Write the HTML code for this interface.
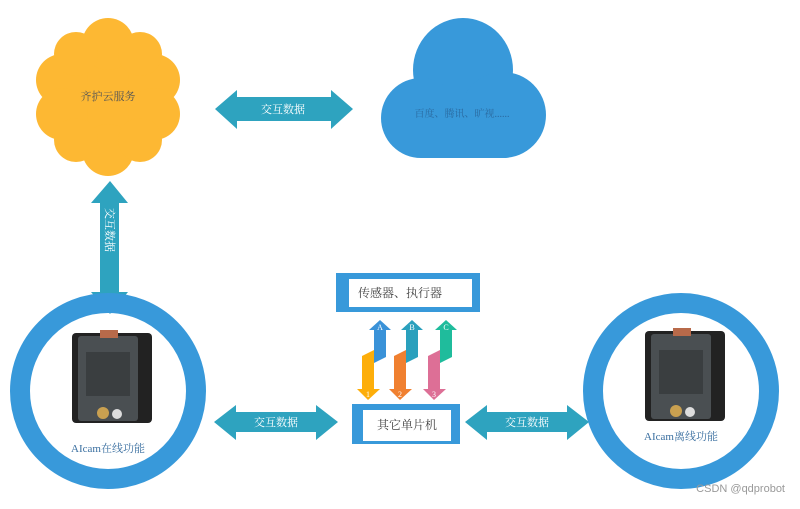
<!DOCTYPE html>
<html><head><meta charset="utf-8"><style>
body{margin:0;background:#fff;}
svg text{font-family:"Liberation Serif","Noto Serif CJK SC",serif;}
</style></head><body>
<svg width="800" height="504" viewBox="0 0 800 504" xmlns="http://www.w3.org/2000/svg">
<!-- flower -->
<g fill="#fdb833">
<circle cx="108" cy="96" r="58"/>
<circle cx="108" cy="44" r="26"/><circle cx="108" cy="150" r="26"/>
<circle cx="62" cy="80" r="26"/><circle cx="154" cy="80" r="26"/>
<circle cx="62" cy="114" r="26"/><circle cx="154" cy="114" r="26"/>
<circle cx="76" cy="54" r="22"/><circle cx="140" cy="54" r="22"/>
<circle cx="76" cy="140" r="22"/><circle cx="140" cy="140" r="22"/>
</g>
<text x="108" y="100" font-size="11" fill="#555" text-anchor="middle">齐护云服务</text>
<!-- blue cloud -->
<g fill="#3899da">
<ellipse cx="463" cy="70" rx="50" ry="52"/>
<circle cx="421" cy="118" r="40"/>
<circle cx="503" cy="115" r="43"/>
<rect x="421" y="100" width="82" height="58"/>
</g>
<text x="462" y="117" font-size="10" fill="#2a6aa0" text-anchor="middle">百度、腾讯、旷视......</text>
<!-- top horizontal arrow -->
<polygon points="215,109 237,90 237,97 331,97 331,90 353,109 331,129 331,121 237,121 237,129" fill="#2ea3bf"/>
<text x="283" y="113" font-size="11" fill="#fff" text-anchor="middle">交互数据</text>
<!-- vertical arrow -->
<polygon points="110,181 128,203 119,203 119,292 128,292 110,314 91,292 100,292 100,203 91,203" fill="#2ea3bf"/>
<text x="0" y="0" font-size="11" fill="#fff" transform="translate(106,208) rotate(90)">交互数据</text>
<!-- circles -->
<circle cx="108" cy="391" r="88" fill="none" stroke="#3899da" stroke-width="20"/>
<circle cx="681" cy="391" r="88" fill="none" stroke="#3899da" stroke-width="20"/>
<!-- boards -->
<g id="b">
<rect x="72" y="333" width="80" height="90" rx="4" fill="#222"/>
<rect x="78" y="336" width="60" height="85" rx="3" fill="#4a4f52"/>
<rect x="86" y="352" width="44" height="44" fill="#3a3e40"/>
<rect x="100" y="330" width="18" height="8" fill="#b86a4a"/>
<circle cx="103" cy="413" r="6" fill="#c9a050"/><circle cx="117" cy="414" r="5" fill="#ddd"/>
</g>
<use href="#b" x="573" y="-2"/>
<text x="108" y="452" font-size="11" fill="#3a6fa0" text-anchor="middle">AIcam在线功能</text>
<text x="681" y="440" font-size="11" fill="#3a6fa0" text-anchor="middle">AIcam离线功能</text>
<!-- lower arrows -->
<polygon points="214,422 236,405 236,412 316,412 316,405 338,422 316,440 316,432 236,432 236,440" fill="#2ea3bf"/>
<text x="276" y="426" font-size="11" fill="#fff" text-anchor="middle">交互数据</text>
<polygon points="465,422 487,405 487,412 567,412 567,405 589,422 567,440 567,432 487,432 487,440" fill="#2ea3bf"/>
<text x="527" y="426" font-size="11" fill="#fff" text-anchor="middle">交互数据</text>
<!-- boxes -->
<rect x="336" y="273" width="144" height="39" fill="#3899da"/>
<rect x="349" y="279" width="123" height="28" fill="#fff"/>
<text x="400" y="297" font-size="12" fill="#444" text-anchor="middle">传感器、执行器</text>
<rect x="352" y="404" width="108" height="40" fill="#3899da"/>
<rect x="363" y="410" width="88" height="31" fill="#fff"/>
<text x="407" y="429" font-size="12" fill="#444" text-anchor="middle">其它单片机</text>
<!-- small arrows -->
<g fill="#3a92d8"><polygon points="380,320 391,330 386,330 386,357 374,363 374,330 369,330"/></g>
<g fill="#fdae0a"><polygon points="362,356 374,350 374,389 380,389 368,400 357,389 362,389"/></g>
<g fill="#2aa0bd"><polygon points="412,320 423,330 418,330 418,357 406,363 406,330 401,330"/></g>
<g fill="#f08030"><polygon points="394,356 406,350 406,389 412,389 400,400 389,389 394,389"/></g>
<g fill="#1fbc9c"><polygon points="446,320 457,330 452,330 452,357 440,363 440,330 435,330"/></g>
<g fill="#dd6f96"><polygon points="428,356 440,350 440,389 446,389 434,400 423,389 428,389"/></g>
<g font-size="8" fill="#fff" text-anchor="middle">
<text x="380" y="330">A</text><text x="412" y="330">B</text><text x="446" y="330">C</text>
<text x="368" y="397">1</text><text x="400" y="397">2</text><text x="434" y="397">3</text>
</g>
<text x="785" y="492" font-size="11" fill="#999" text-anchor="end" style="font-family:'Liberation Sans',sans-serif">CSDN @qdprobot</text>
</svg>
</body></html>
